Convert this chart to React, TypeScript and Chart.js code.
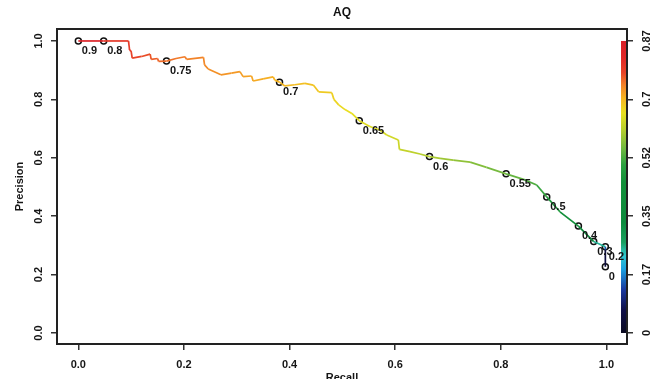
import React, { useEffect, useRef } from "react";
import { Chart, registerables } from "chart.js";
Chart.register(...registerables);

// PR curve vertices (recall, precision, threshold)
const recall = [
  0.0, 0.048, 0.095, 0.097, 0.1, 0.102, 0.12, 0.136, 0.138, 0.15, 0.152, 0.167,
  0.185, 0.202, 0.205, 0.237, 0.239, 0.246, 0.27, 0.29, 0.306, 0.312, 0.328, 0.331,
  0.35, 0.369, 0.372, 0.381, 0.391, 0.41, 0.429, 0.445, 0.455, 0.48, 0.484, 0.493,
  0.505, 0.518, 0.532, 0.552, 0.571, 0.584, 0.606, 0.608, 0.628, 0.647, 0.665, 0.685,
  0.71, 0.742, 0.773, 0.81, 0.843, 0.868, 0.887, 0.912, 0.947, 0.976, 0.998, 0.998, 0.998,
];
const precision = [
  1.0, 1.0, 1.0, 0.969, 0.965, 0.941, 0.947, 0.955, 0.937, 0.94, 0.93, 0.931,
  0.94, 0.946, 0.937, 0.944, 0.918, 0.904, 0.884, 0.89, 0.895, 0.878, 0.88, 0.863,
  0.87, 0.877, 0.866, 0.859, 0.846, 0.85, 0.855, 0.849, 0.826, 0.823, 0.8, 0.781,
  0.765, 0.752, 0.727, 0.707, 0.695, 0.678, 0.661, 0.629, 0.621, 0.613, 0.604, 0.598,
  0.592, 0.585, 0.567, 0.545, 0.526, 0.507, 0.466, 0.415, 0.366, 0.313, 0.295, 0.285, 0.227,
];
const threshold = [
  0.9, 0.8, 0.79, 0.79, 0.78, 0.78, 0.77, 0.77, 0.76, 0.76, 0.755, 0.75,
  0.745, 0.742, 0.74, 0.735, 0.733, 0.73, 0.725, 0.722, 0.72, 0.715, 0.712, 0.71,
  0.705, 0.702, 0.7, 0.7, 0.695, 0.69, 0.688, 0.685, 0.68, 0.675, 0.67, 0.665,
  0.66, 0.655, 0.65, 0.645, 0.64, 0.635, 0.63, 0.625, 0.615, 0.61, 0.6, 0.59,
  0.58, 0.57, 0.56, 0.55, 0.535, 0.52, 0.5, 0.46, 0.4, 0.3, 0.2, 0.1, 0.0,
];

// Labelled threshold markers
const markRecall = [0.0, 0.048, 0.167, 0.381, 0.532, 0.665, 0.81, 0.887, 0.947, 0.976, 0.998, 0.998];
const markPrecision = [1.0, 1.0, 0.931, 0.859, 0.727, 0.604, 0.545, 0.466, 0.366, 0.313, 0.295, 0.227];
const markLabels = ["0.9", "0.8", "0.75", "0.7", "0.65", "0.6", "0.55", "0.5", "0.4", "0.3", "0.2", "0"];

const xTicks = [0, 0.2, 0.4, 0.6, 0.8, 1.0];
const yTicks = [0, 0.2, 0.4, 0.6, 0.8, 1.0];
const colorbarTickLabels = ["0", "0.17", "0.35", "0.52", "0.7", "0.87"];
const colorbarMax = 0.87;

const FONT = "'Liberation Sans', Arial, Helvetica, sans-serif";

const colorStops: [number, string][] = [
  [0.0, "#0a0a20"],
  [0.07, "#10104a"],
  [0.13, "#1a3aa0"],
  [0.19, "#1aa0e0"],
  [0.23, "#30c8d0"],
  [0.27, "#1aa060"],
  [0.33, "#0c8a3c"],
  [0.45, "#13903a"],
  [0.5, "#2aa040"],
  [0.55, "#70b840"],
  [0.6, "#b0cc30"],
  [0.655, "#e8e020"],
  [0.7, "#f6b422"],
  [0.74, "#f28028"],
  [0.775, "#e84428"],
  [0.82, "#e02828"],
  [0.87, "#d82028"],
];

function hexToRgb(h: string) {
  const n = parseInt(h.slice(1), 16);
  return [(n >> 16) & 255, (n >> 8) & 255, n & 255];
}

function colorAt(v: number): string {
  if (v <= colorStops[0][0]) return colorStops[0][1];
  for (let i = 1; i < colorStops.length; i++) {
    const [v1, c1] = colorStops[i];
    const [v0, c0] = colorStops[i - 1];
    if (v <= v1) {
      const t = (v - v0) / (v1 - v0);
      const a = hexToRgb(c0);
      const b = hexToRgb(c1);
      const m = a.map((x, k) => Math.round(x + (b[k] - x) * t));
      return `rgb(${m[0]},${m[1]},${m[2]})`;
    }
  }
  return colorStops[colorStops.length - 1][1];
}

const decorPlugin = {
  id: "decor",
  beforeDatasetsDraw(chart: any) {
    const { ctx, chartArea, scales } = chart;
    const y0 = scales.y.getPixelForValue(0);
    const y1 = scales.y.getPixelForValue(1);
    const g = ctx.createLinearGradient(0, y0, 0, y1);
    colorStops.forEach(([v, c]) => g.addColorStop(Math.min(1, v / colorbarMax), c));
    ctx.save();
    ctx.fillStyle = g;
    ctx.fillRect(chartArea.right - 6, y1, 6, y0 - y1);
    ctx.restore();
  },
  afterDatasetsDraw(chart: any) {
    const { ctx, chartArea } = chart;
    const meta = chart.getDatasetMeta(1);
    ctx.save();
    ctx.font = `bold 11px ${FONT}`;
    ctx.fillStyle = "#151515";
    ctx.textAlign = "left";
    ctx.textBaseline = "middle";
    meta.data.forEach((pt: any, i: number) => {
      ctx.fillText(markLabels[i], pt.x + 3.5, pt.y + 10);
    });
    ctx.strokeStyle = "#222";
    ctx.lineWidth = 2;
    ctx.strokeRect(chartArea.left, chartArea.top, chartArea.right - chartArea.left, chartArea.bottom - chartArea.top);
    ctx.restore();
  },
};

export default function App() {
  const ref = useRef<HTMLCanvasElement | null>(null);
  useEffect(() => {
    if (!ref.current) return;
    const tickGrid = {
      display: true,
      drawOnChartArea: false,
      drawTicks: true,
      tickLength: 6,
      color: "#333",
      lineWidth: 1.5,
    };
    const tickFont = { family: FONT, size: 11, weight: "bold" as const };
    const chart = new Chart(ref.current, {
      type: "scatter",
      data: {
        datasets: [
          {
            data: recall.map((r, i) => ({ x: r, y: precision[i] })),
            showLine: true,
            pointRadius: 0,
            borderWidth: 1.7,
            borderColor: "#e0a020",
            segment: {
              borderColor: (c: any) =>
                colorAt((threshold[c.p0DataIndex] + threshold[c.p1DataIndex]) / 2),
            },
          } as any,
          {
            data: markRecall.map((r, i) => ({ x: r, y: markPrecision[i] })),
            showLine: false,
            pointRadius: 3,
            pointBorderWidth: 1.5,
            pointBorderColor: "#111",
            pointBackgroundColor: "rgba(255,255,255,0)",
          },
        ],
      },
      options: {
        animation: false,
        responsive: false,
        devicePixelRatio: 1,
        layout: { padding: 0 },
        plugins: {
          legend: { display: false },
          tooltip: { enabled: false },
          title: {
            display: true,
            text: "AQ",
            fullSize: false,
            color: "#111",
            font: { family: FONT, size: 12, weight: "bold" },
            padding: { top: 5.5, bottom: 9.1 },
          },
        },
        scales: {
          x: {
            type: "linear",
            min: -0.0404,
            max: 1.039,
            afterBuildTicks: (s: any) => {
              s.ticks = xTicks.map((v) => ({ value: v }));
            },
            afterFit: (s: any) => {
              s.height = 35;
            },
            grid: tickGrid,
            border: { display: false },
            ticks: {
              color: "#151515",
              font: tickFont,
              padding: 8,
              maxRotation: 0,
              minRotation: 0,
              callback: (v: any) => Number(v).toFixed(1),
            },
            title: {
              display: true,
              text: "Recall",
              color: "#151515",
              font: tickFont,
              padding: { top: 0, bottom: -6 },
            },
          },
          y: {
            type: "linear",
            position: "left",
            min: -0.0377,
            max: 1.041,
            afterBuildTicks: (s: any) => {
              s.ticks = yTicks.map((v) => ({ value: v }));
            },
            afterFit: (s: any) => {
              s.width = 57;
            },
            grid: tickGrid,
            border: { display: false },
            ticks: {
              color: "#151515",
              font: tickFont,
              padding: 4.3,
              minRotation: 90,
              maxRotation: 90,
              crossAlign: "center",
              callback: (v: any) => Number(v).toFixed(1),
            },
            title: {
              display: true,
              text: "Precision",
              color: "#151515",
              font: tickFont,
              padding: { top: 13.4, bottom: 0 },
            },
          },
          y2: {
            type: "linear",
            position: "right",
            min: -0.0377,
            max: 1.041,
            afterBuildTicks: (s: any) => {
              s.ticks = yTicks.map((v) => ({ value: v }));
            },
            afterFit: (s: any) => {
              s.width = 39;
            },
            grid: tickGrid,
            border: { display: false },
            ticks: {
              color: "#151515",
              font: tickFont,
              padding: 3,
              minRotation: 90,
              maxRotation: 90,
              crossAlign: "center",
              callback: (_v: any, i: number) => colorbarTickLabels[i],
            },
          },
        },
      } as any,
      plugins: [decorPlugin],
    });
    return () => chart.destroy();
  }, []);
  return (
    <div style={{ position: "fixed", left: 0, top: 0, width: 666, height: 379, background: "#fff" }}>
      <canvas ref={ref} width={666} height={379} style={{ display: "block" }} />
    </div>
  );
}
